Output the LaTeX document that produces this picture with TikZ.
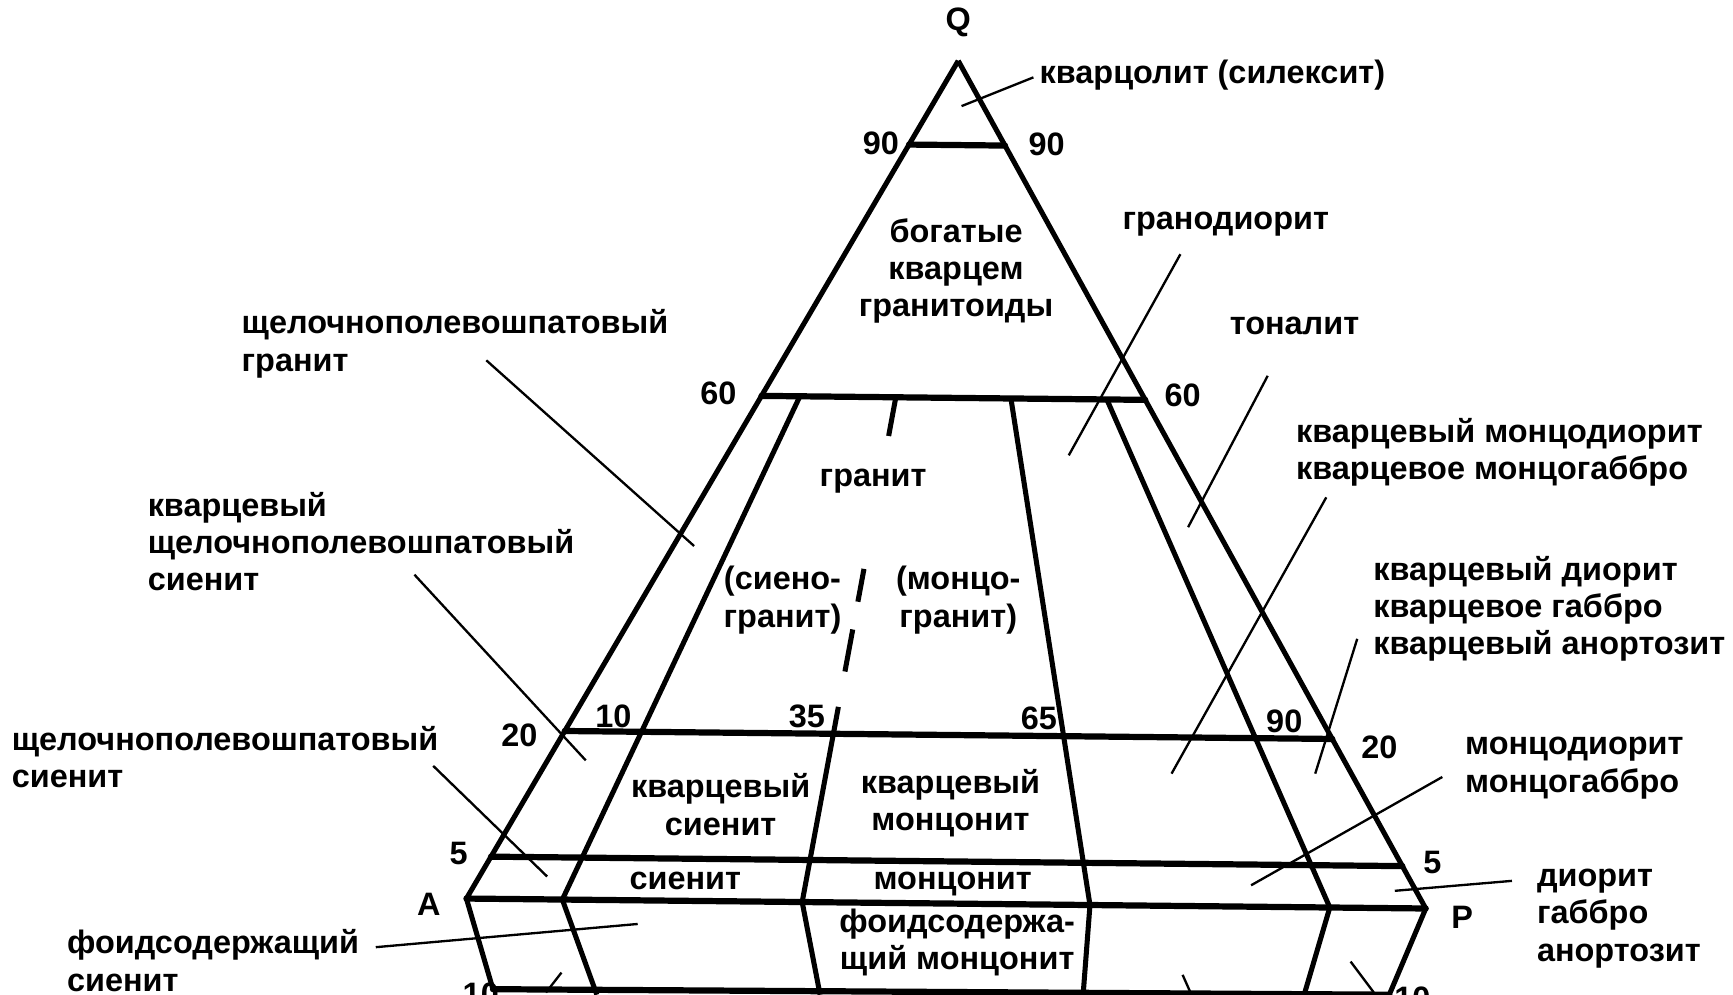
\documentclass[tikz,border=0pt]{standalone}
\usepackage{fontspec}
\setmainfont{Liberation Sans}
\usetikzlibrary{calc}
\tikzset{
  bar/.style={line width=1.6pt, line cap=round},
  side/.style={line width=1.3pt, line join=round},
  lead/.style={line width=0.6pt},
  txt/.style={font=\bfseries\fontsize{8.35}{9.6}\selectfont, inner sep=0pt, align=center},
  ltxt/.style={txt, align=left, anchor=west},
}
\begin{document}
\begin{tikzpicture}[x=0.1mm, y=-0.1mm]
  \useasboundingbox (0,0) rectangle (1568,900);
  % vertices
  \coordinate (Q) at (867,55);
  \coordinate (A) at (422,813);
  \coordinate (P) at (1290,822);
  \coordinate (FL) at (446,895);
  \coordinate (FR) at (1257,900);

  % horizontal boundaries
  \foreach \t/\n in {0.1/90, 0.4/60, 0.8/20, 0.95/5} {
    \coordinate (l\n) at ($(Q)!\t!(A)$);
    \coordinate (r\n) at ($(Q)!\t!(P)$);
    \draw[bar] (l\n) -- (r\n);
  }
  \draw[bar] (A) -- (P);
  \draw[bar] (FL) -- (FR);
  \draw[side] (Q) -- (A) -- (FL);
  \draw[side] (Q) -- (P) -- (FR);

  % P/(A+P) dividers
  \foreach \t/\n/\x in {0.1/10/540, 0.35/35/742, 0.65/65/980, 0.9/90/1180} {
    \coordinate (a\n) at ($(A)!\t!(P)$);
    \coordinate (b\n) at (\x,900);
  }
  \foreach \n in {10,65,90}
    \draw[side] ($(Q)!0.4!(a\n)$) -- (a\n) -- (b\n);
  \draw[side] ($(Q)!0.768!(a35)$) -- (a35) -- (b35);
  \foreach \s/\e in {0.4/0.446, 0.604/0.643, 0.676/0.726}
    \draw[side] ($(Q)!\s!(a35)$) -- ($(Q)!\e!(a35)$);

  % numbers
  \node[txt] (Qlab) at (867,20) {Q};
  \node[txt] (Alab) at (388,818) {A};
  \node[txt] (Plab) at (1323,830) {P};
  \node[txt] (n90l) at (797,130) {90};
  \node[txt] (n90r) at (947,131) {90};
  \node[txt] (n60l) at (650,356) {60};
  \node[txt] (n60r) at (1070,358) {60};
  \node[txt] (n20l) at (470,665) {20};
  \node[txt] (n20r) at (1248,676) {20};
  \node[txt] (n5l) at (415,772) {5};
  \node[txt] (n5r) at (1296,780) {5};
  \node[txt] (n10l) at (435,900) {10};
  \node[txt] (n10r) at (1278,903) {10};
  \node[txt] (m10) at (555,648) {10};
  \node[txt] (m35) at (730,648) {35};
  \node[txt] (m65) at (940,650) {65};
  \node[txt] (m90) at (1162,653) {90};

  % fields
  \node[txt] (qrich) at (865,245) {богатые\\кварцем\\гранитоиды};
  \node[txt] (granite) at (790,435) {гранит};
  \node[txt] (syenogr) at (708,543) {(сиено-\\гранит)};
  \node[txt] (monzogr) at (867,543) {(монцо-\\гранит)};
  \node[txt] (qsyen) at (652,728) {кварцевый\\сиенит};
  \node[txt] (qmonz) at (860,727) {кварцевый\\монцонит};
  \node[txt] (syen) at (620,797) {сиенит};
  \node[txt] (monz) at (862,800) {монцонит};
  \node[txt] (fmonz) at (866,853) {фоидсодержа-\\щий монцонит};

  % names outside
  \node[ltxt] (quartzolite) at (940,68) {кварцолит (силексит)};
  \node[ltxt] (granodior) at (1015,203) {гранодиорит};
  \node[ltxt] (tonal) at (1112,295) {тоналит};
  \node[ltxt] (qmdior) at (1172,409) {кварцевый монцодиорит\\кварцевое монцогаббро};
  \node[ltxt] (qdior) at (1242,551) {кварцевый диорит\\кварцевое габбро\\кварцевый анортозит};
  \node[ltxt] (mdior) at (1325,695) {монцодиорит\\монцогаббро};
  \node[ltxt] (dior) at (1390,831) {диорит\\габбро\\анортозит};
  \node[ltxt] (afgran) at (218,311) {щелочнополевошпатовый\\гранит};
  \node[ltxt] (qafsyen) at (133,490) {кварцевый\\щелочнополевошпатовый\\сиенит};
  \node[ltxt] (afsyen) at (10,685) {щелочнополевошпатовый\\сиенит};
  \node[ltxt] (fsyen) at (60,869) {фоидсодержащий\\сиенит};

  % leaders
  \coordinate (e1) at (870,96);
  \coordinate (e2) at (967,412);
  \coordinate (e3) at (1075,477);
  \coordinate (e4) at (1060,700);
  \coordinate (e5) at (1190,700);
  \coordinate (e6) at (1132,801);
  \coordinate (e7) at (1262,806);
  \coordinate (e8) at (628,494);
  \coordinate (e9) at (530,688);
  \coordinate (e10) at (495,793);
  \coordinate (e11) at (577,836);
  \draw[lead] (935,70) -- (e1);
  \draw[lead] (1068,230) -- (e2);
  \draw[lead] (1147,340) -- (e3);
  \draw[lead] (1200,450) -- (e4);
  \draw[lead] (1228,578) -- (e5);
  \draw[lead] (1305,703) -- (e6);
  \draw[lead] (1368,797) -- (e7);
  \draw[lead] (440,326) -- (e8);
  \draw[lead] (375,520) -- (e9);
  \draw[lead] (392,693) -- (e10);
  \draw[lead] (340,857) -- (e11);
  % stubs towards labels below
  \draw[lead] (508,880) -- (494,898);
  \draw[lead] (1070,882) -- (1078,900);
  \draw[lead] (1222,870) -- (1243,898);
\end{tikzpicture}
\end{document}
